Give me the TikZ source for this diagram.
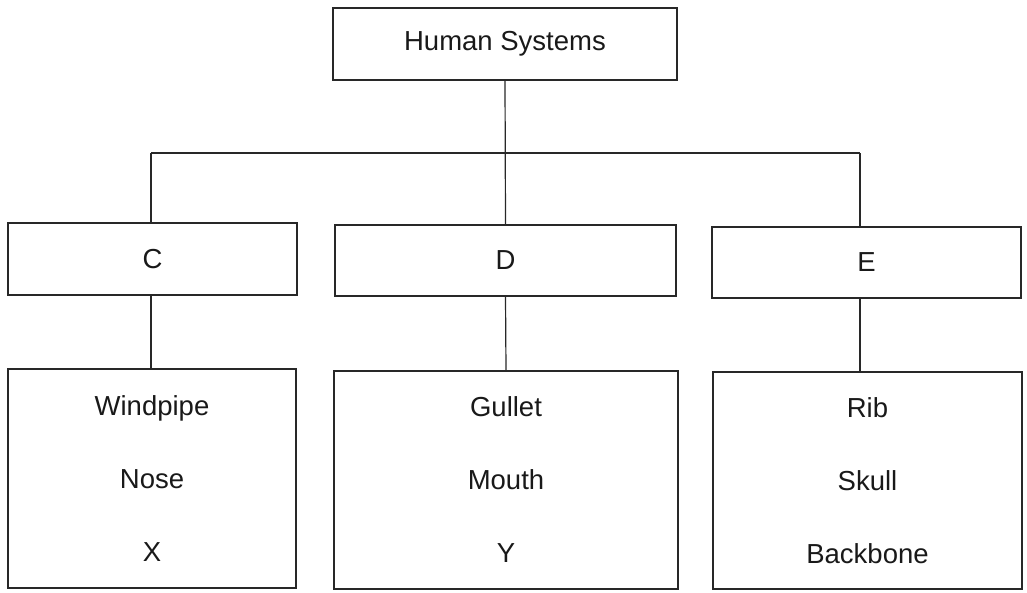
\documentclass[tikz,border=0pt]{standalone}
\usepackage{fontspec}
\setmainfont{Liberation Sans}
\usepackage{tikz}
\usetikzlibrary{positioning}
\definecolor{LineGray}{RGB}{40, 40, 40}

\begin{document}
\begin{tikzpicture}[x=1pt, y=-1pt,
    box/.style={draw=LineGray, line width=1.2pt, inner sep=0pt, text=black!90, font=\fontsize{27.5}{32}\selectfont},
    listbox/.style={box, align=center, font=\fontsize{27.5}{73}\selectfont},
    link/.style={draw=LineGray, line width=1.2pt}]
    \useasboundingbox (0,0) rectangle (1027,592);

    % Root
    \node[box, minimum width=344, minimum height=72] (root) at (505,44) {Human Systems};

    % Middle row
    \node[box, minimum width=289, minimum height=72] (c) at (152.5,259) {C};
    \node[box, minimum width=341, minimum height=71] (d) at (505.5,260.5) {D};
    \node[box, minimum width=309, minimum height=71] (e) at (866.5,262.5) {E};

    % Bottom row
    \node[listbox, minimum width=288, minimum height=219] (clist) at (152,478.5) {Windpipe\\Nose\\X};
    \node[listbox, minimum width=344, minimum height=218] (dlist) at (506,480) {Gullet\\Mouth\\Y};
    \node[listbox, minimum width=309, minimum height=217] (elist) at (867.5,480.5) {Rib\\Skull\\Backbone};

    % Connectors
    \coordinate (barL) at (151,153);
    \coordinate (barR) at (860,153);
    \draw[link] (barL) -- (barR);
    \draw[link] (root.south) -- (d.north);
    \draw[link] (barL) -- (barL |- c.north);
    \draw[link] (barR) -- (barR |- e.north);
    \draw[link] (barL |- c.south) -- (barL |- clist.north);
    \draw[link] (d.south) -- (dlist.north);
    \draw[link] (barR |- e.south) -- (barR |- elist.north);
\end{tikzpicture}
\end{document}
